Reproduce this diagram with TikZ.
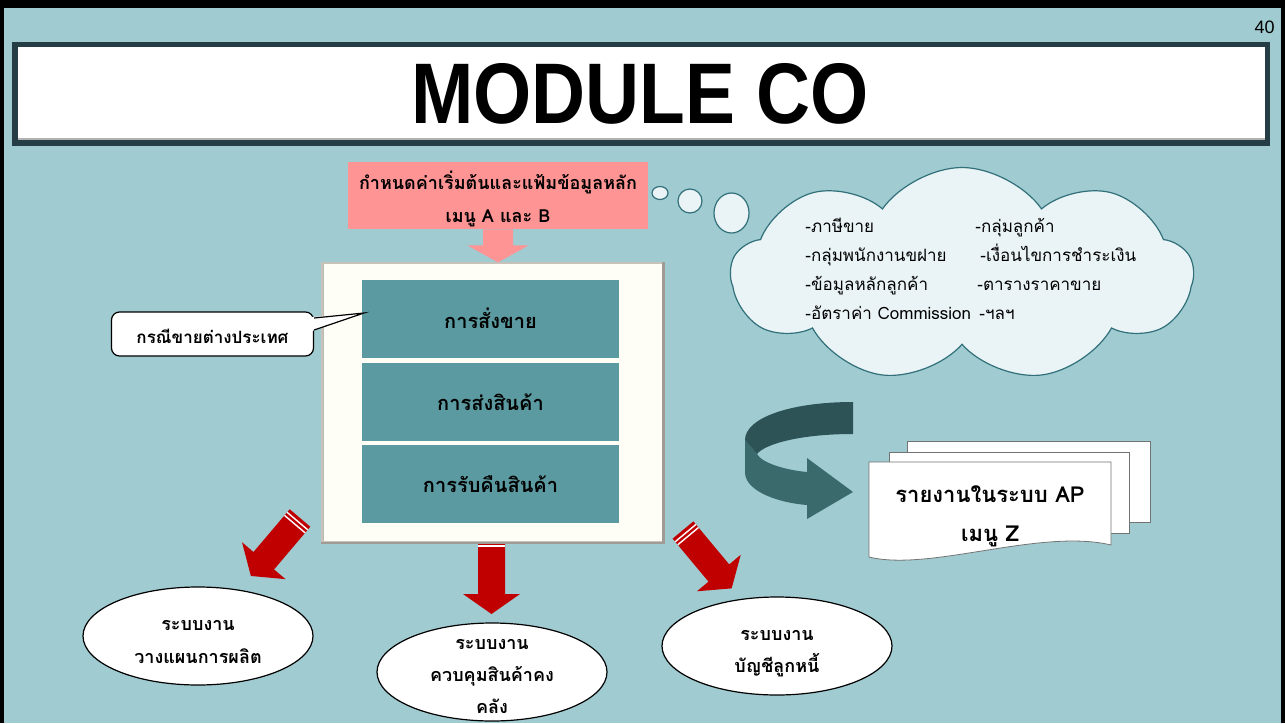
\documentclass[tikz,border=0pt]{standalone}
\usepackage{fontspec}
\setmainfont[Script=Thai]{Loma}
\newfontfamily\latinfont{Liberation Sans}
\usetikzlibrary{shapes.geometric,shapes.symbols}
\definecolor{bgc}{HTML}{9FCBD1}
\definecolor{titledark}{HTML}{253D45}
\definecolor{pinkc}{HTML}{FF9494}
\definecolor{tealc}{HTML}{5A9AA0}
\definecolor{creamc}{HTML}{FFFEF6}
\definecolor{boxedge}{HTML}{C8C3BA}
\definecolor{boxshadow}{HTML}{A09B93}
\definecolor{cloudfill}{HTML}{EAF4F6}
\definecolor{cloudedge}{HTML}{31707A}
\definecolor{arrowred}{HTML}{C00000}
\definecolor{curvedark}{HTML}{2D5356}
\definecolor{curvelight}{HTML}{3A6A6C}
\tikzset{
  tealbox/.style={fill=tealc, minimum width=128.5pt, minimum height=39pt, inner sep=0pt},
  ell/.style={ellipse, draw=black, fill=white, line width=0.6pt, minimum width=115pt, minimum height=49pt, inner sep=0pt},
  txtb/.style={font=\bfseries\fontsize{10}{12}\selectfont, anchor=base, inner sep=0pt},
  txtc/.style={font=\fontsize{8.5}{10}\selectfont, anchor=base west, inner sep=0pt},
  page/.style={fill=white, draw=black!55, line width=0.4pt},
  redarrow/.pic={
    \fill[arrowred] (0,-13.5) -- (56,-13.5) -- (56,-28.5) -- (76,0) -- (56,28.5) -- (56,13.5) -- (0,13.5) -- cycle;
    \draw[white, line width=0.7pt] (4,-13.5) -- (4,13.5) (8,-13.5) -- (8,13.5);
  }
}
\begin{document}
\begin{tikzpicture}[x=0.5pt,y=-0.5pt]
\useasboundingbox (0,0) rectangle (1285,723);
% background and frame
\fill[bgc] (0,0) rectangle (1285,723);
\fill[black] (0,0) rectangle (1285,8);
\fill[black] (0,0) rectangle (4,723);
\fill[black] (1281,0) rectangle (1285,723);
\node[font=\latinfont\fontsize{9}{10}\selectfont, anchor=base east, inner sep=0pt] (pg) at (1275,33) {40};
% title bar
\fill[titledark] (12,42) rectangle (1270,146);
\fill[white] (18,47) rectangle (1265,139);
\draw[black!30, line width=0.6pt] (18,139) -- (1265,139);
\node[font=\latinfont\bfseries\fontsize{43}{45}\selectfont, anchor=base, inner sep=0pt] (title) at (640,123) {\scalebox{0.87}[1]{MODULE CO}};
% pink box
\node[fill=pinkc, minimum width=150pt, minimum height=33.5pt, inner sep=0pt] (pk) at (498,195.5) {};
\node[txtb, font=\bfseries\fontsize{9}{11}\selectfont] (pk1) at (498,189) {กำหนดค่าเริ่มต้นและแฟ้มข้อมูลหลัก};
\node[txtb, font=\bfseries\fontsize{9}{11}\selectfont] (pk2) at (498,222) {เมนู A และ B};
% red arrows
\pic[rotate=-130.3] at (300,518) {redarrow};
\pic[rotate=-90] at (491.5,538) {redarrow};
\pic[rotate=-50.2] at (683,530) {redarrow};
% main box
\node[fill=creamc, draw=boxedge, line width=1pt, minimum width=170.5pt, minimum height=139.5pt, inner sep=0pt] (mb) at (492,402.5) {};
\draw[boxshadow, line width=1.2pt] (mb.north east) -- (mb.south east) -- (mb.south west);
\draw[boxshadow!70, line width=0.6pt] ([xshift=1.5pt,yshift=-1pt]mb.north west) -- ([xshift=1.5pt,yshift=1pt]mb.south west);
\fill[pinkc] ([xshift=-7.5pt]pk.south) -- ++(0,16) -- ++(-15.5,0) -- ++(30.5,17) -- ++(30.5,-17) -- ++(-15.5,0) -- ++(0,-16) -- cycle;
\node[tealbox] (r1) at (490.5,319) {};
\node[tealbox] (r2) at (490.5,401.5) {};
\node[tealbox] (r3) at (490.5,483.5) {};
\node[txtb] (t1) at (490.5,328) {การสั่งขาย};
\node[txtb] (t2) at (490.5,410) {การส่งสินค้า};
\node[txtb] (t3) at (490.5,492) {การรับคืนสินค้า};
% callout
\node[draw=black, fill=white, rounded corners=4pt, line width=0.6pt, minimum width=101pt, minimum height=22pt, inner sep=0pt] (co) at (212.5,334) {};
\coordinate (cotip) at (364,313);
\fill[white] ([yshift=8.5pt,xshift=-1pt]co.east) -- (cotip) -- ([yshift=1.5pt,xshift=-1pt]co.east) -- cycle;
\draw[line width=0.6pt] ([yshift=8pt]co.east) -- (cotip) -- ([yshift=2pt]co.east);
\node[txtb, font=\bfseries\fontsize{8.5}{10}\selectfont] (cot) at (co.center |- 0,343) {กรณีขายต่างประเทศ};
% thought bubbles and cloud
\node[ellipse, draw=cloudedge, fill=cloudfill, line width=0.6pt, minimum width=8pt, minimum height=6.5pt, inner sep=0pt] (b1) at (660,193) {};
\node[ellipse, draw=cloudedge, fill=cloudfill, line width=0.6pt, minimum width=12pt, minimum height=12pt, inner sep=0pt] (b2) at (690,201) {};
\node[ellipse, draw=cloudedge, fill=cloudfill, line width=0.6pt, minimum width=17.5pt, minimum height=20pt, inner sep=0pt] (b3) at (731.5,213) {};
\node[cloud, cloud puffs=9, cloud puff arc=110, aspect=2.15, draw=cloudedge, fill=cloudfill, line width=0.6pt, minimum width=231pt, minimum height=107pt, inner sep=0pt] (cl) at (962,274.5) {};
\node[txtc] (c1) at (805,232) {-ภาษีขาย};
\node[txtc] (c2) at (805,261) {-กลุ่มพนักงานขฝาย};
\node[txtc] (c3) at (805,290) {-ข้อมูลหลักลูกค้า};
\node[txtc] (c4) at (805,319) {-อัตราค่า Commission};
\node[txtc] (c5) at (975,232) {-กลุ่มลูกค้า};
\node[txtc] (c6) at (980,261) {-เงื่อนไขการชำระเงิน};
\node[txtc] (c7) at (977,290) {-ตารางราคาขาย};
\node[txtc] (c8) at (979,319) {-ฯลฯ};
% curved arrow
\fill[curvelight] (745,440) -- (745,473) .. controls (746,492) and (780,503) .. (807,505) -- (807,519) -- (853,492) -- (807,458) -- (807,472) .. controls (785,470) and (762,463) .. (757,454) -- cycle;
\fill[curvedark] (853,402) .. controls (790,402) and (745,418) .. (745,440) -- (757,454) .. controls (765,444) and (800,434) .. (853,434) -- cycle;
% documents
\draw[page] (907,441) rectangle (1150,522);
\draw[page] (889,452) rectangle (1129,533);
\draw[page] (869,462) -- (1111,462) -- (1111,545) .. controls (1040,528) and (930,572) .. (869,557) -- cycle;
\node[txtb, font=\bfseries\fontsize{11}{12}\selectfont] (d1) at (990,502) {รายงานในระบบ AP};
\node[txtb, font=\bfseries\fontsize{11}{12}\selectfont] (d2) at (990,541) {เมนู Z};
% ellipses
\node[ell] (e1) at (198,636) {};
\node[ell] (e2) at (492,672) {};
\node[ell] (e3) at (777,646) {};
\node[txtb, font=\bfseries\fontsize{9}{11}\selectfont] (e1a) at (198,630) {ระบบงาน};
\node[txtb, font=\bfseries\fontsize{9}{11}\selectfont] (e1b) at (198,663) {วางแผนการผลิต};
\node[txtb, font=\bfseries\fontsize{9}{11}\selectfont] (e2a) at (492,649) {ระบบงาน};
\node[txtb, font=\bfseries\fontsize{9}{11}\selectfont] (e2b) at (492,681) {ควบคุมสินค้าคง};
\node[txtb, font=\bfseries\fontsize{9}{11}\selectfont] (e2c) at (492,713) {คลัง};
\node[txtb, font=\bfseries\fontsize{9}{11}\selectfont] (e3a) at (777,640) {ระบบงาน};
\node[txtb, font=\bfseries\fontsize{9}{11}\selectfont] (e3b) at (777,672) {บัญชีลูกหนี้};
\end{tikzpicture}
\end{document}
